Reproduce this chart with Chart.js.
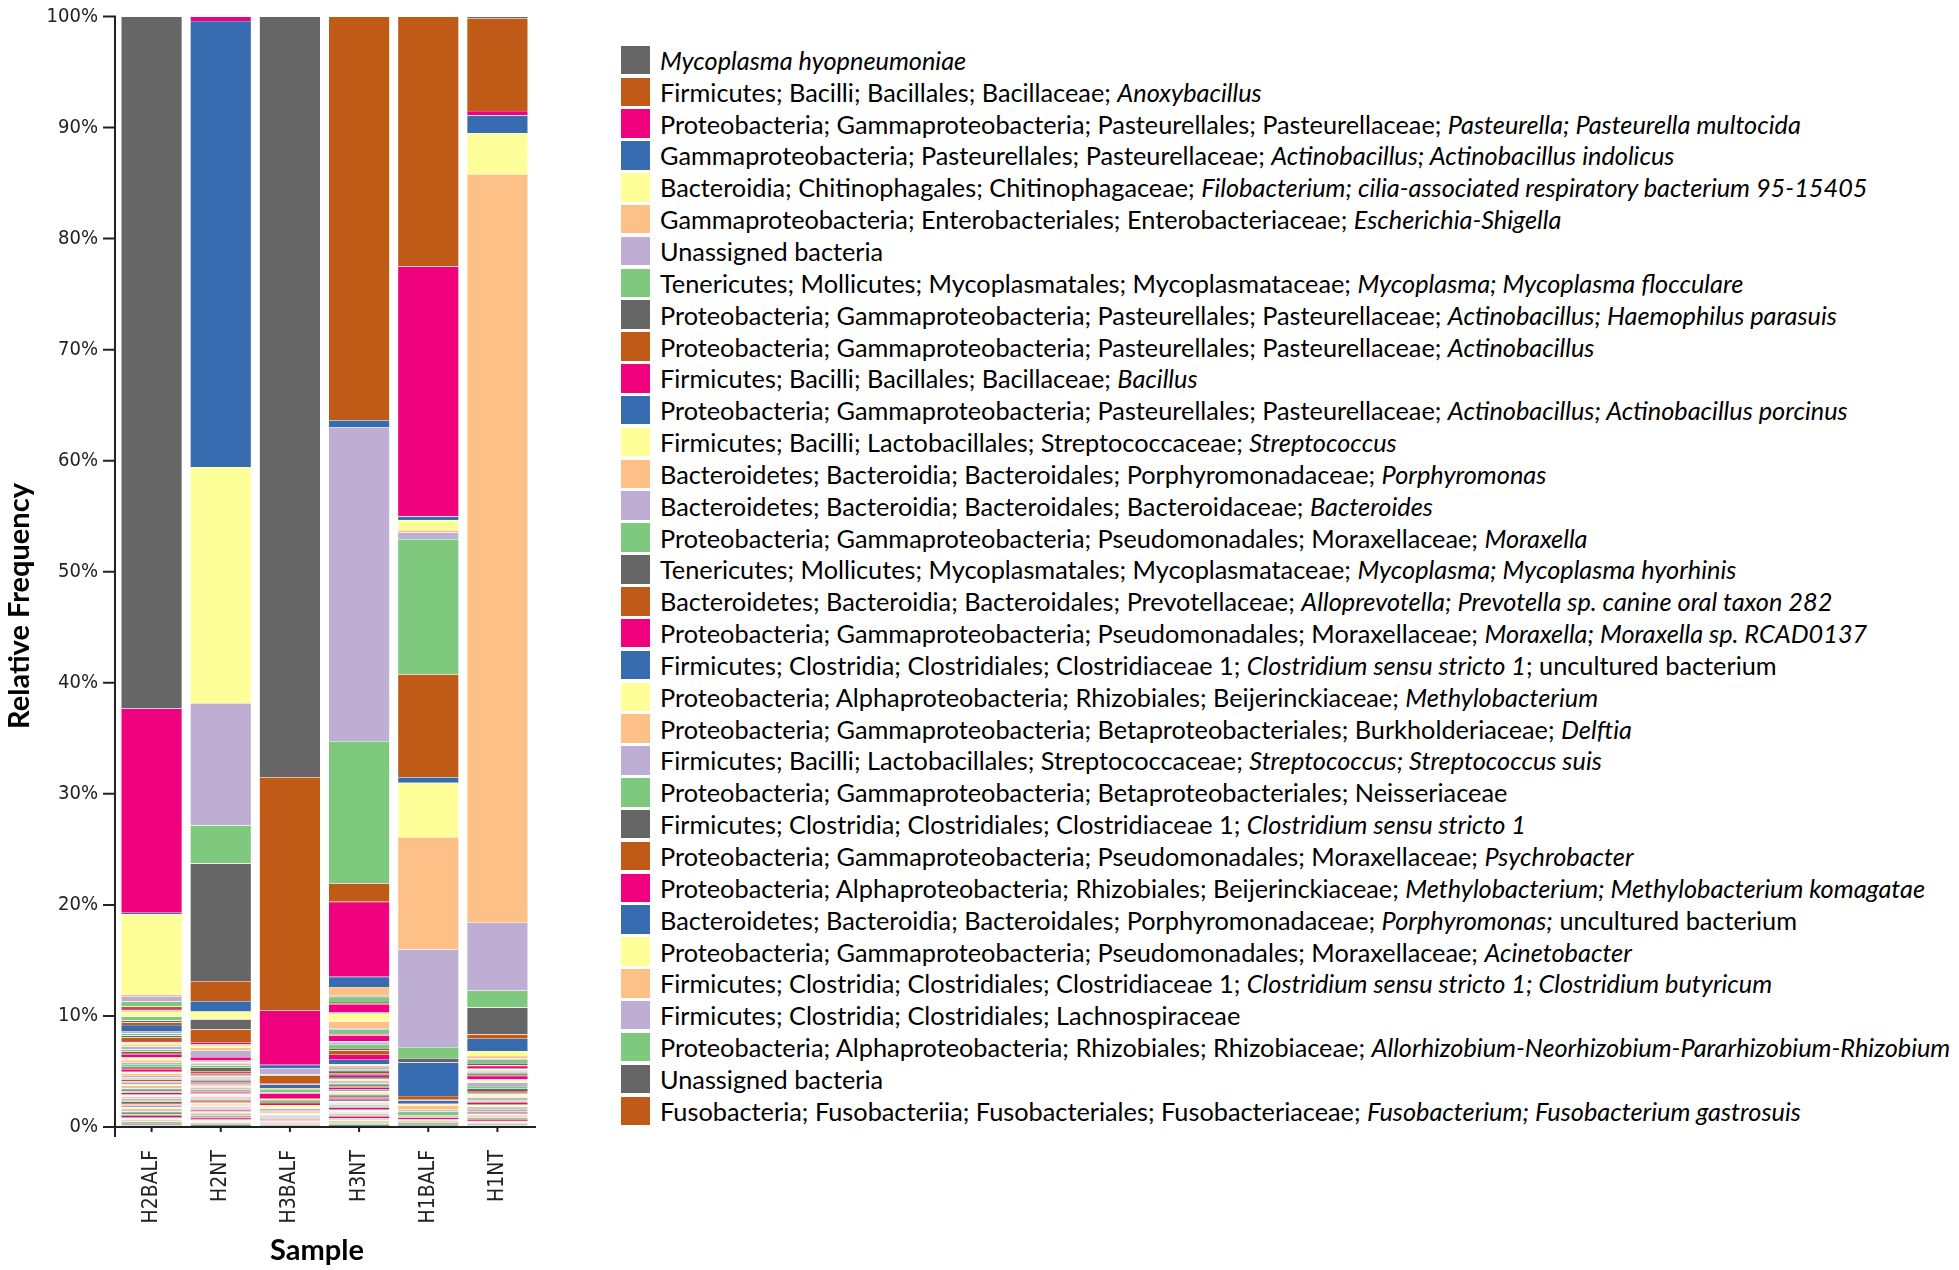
<!DOCTYPE html>
<html>
<head>
<meta charset="utf-8">
<script src="https://cdn.jsdelivr.net/npm/chart.js@4.4.0/dist/chart.umd.min.js"></script>
<style>
html, body { margin: 0; background: #fff; }
#wrap { position: absolute; left: 0; top: 0; width: 600px; height: 1270px; }
#legend { position: absolute; left: 621px; top: 44px; font-family: Lato, 'Open Sans', sans-serif; font-size: 25.3px; color: #000; }
.row { height: 31.85px; display: flex; align-items: center; white-space: nowrap; }
.sw { width: 28.5px; height: 28.5px; margin-right: 10.5px; flex: none; }
</style>
</head>
<body>
<div id="wrap"><canvas id="chart"></canvas></div>
<div id="legend"></div>
<script>
const samples = ['H2BALF', 'H2NT', 'H3BALF', 'H3NT', 'H1BALF', 'H1NT'];
const palette = ['#666666', '#bf5b17', '#f0027f', '#386cb0', '#ffff99', '#fdc086', '#beaed4', '#7fc97f'];

// _..._ marks the italic part
const taxa = [
    '_Mycoplasma hyopneumoniae_',
    'Firmicutes; Bacilli; Bacillales; Bacillaceae; _Anoxybacillus_',
    'Proteobacteria; Gammaproteobacteria; Pasteurellales; Pasteurellaceae; _Pasteurella; Pasteurella multocida_',
    'Gammaproteobacteria; Pasteurellales; Pasteurellaceae; _Actinobacillus; Actinobacillus indolicus_',
    'Bacteroidia; Chitinophagales; Chitinophagaceae; _Filobacterium; cilia-associated respiratory bacterium 95-15405_',
    'Gammaproteobacteria; Enterobacteriales; Enterobacteriaceae; _Escherichia-Shigella_',
    'Unassigned bacteria',
    'Tenericutes; Mollicutes; Mycoplasmatales; Mycoplasmataceae; _Mycoplasma; Mycoplasma flocculare_',
    'Proteobacteria; Gammaproteobacteria; Pasteurellales; Pasteurellaceae; _Actinobacillus; Haemophilus parasuis_',
    'Proteobacteria; Gammaproteobacteria; Pasteurellales; Pasteurellaceae; _Actinobacillus_',
    'Firmicutes; Bacilli; Bacillales; Bacillaceae; _Bacillus_',
    'Proteobacteria; Gammaproteobacteria; Pasteurellales; Pasteurellaceae; _Actinobacillus; Actinobacillus porcinus_',
    'Firmicutes; Bacilli; Lactobacillales; Streptococcaceae; _Streptococcus_',
    'Bacteroidetes; Bacteroidia; Bacteroidales; Porphyromonadaceae; _Porphyromonas_',
    'Bacteroidetes; Bacteroidia; Bacteroidales; Bacteroidaceae; _Bacteroides_',
    'Proteobacteria; Gammaproteobacteria; Pseudomonadales; Moraxellaceae; _Moraxella_',
    'Tenericutes; Mollicutes; Mycoplasmatales; Mycoplasmataceae; _Mycoplasma; Mycoplasma hyorhinis_',
    'Bacteroidetes; Bacteroidia; Bacteroidales; Prevotellaceae; _Alloprevotella; Prevotella sp. canine oral taxon 282_',
    'Proteobacteria; Gammaproteobacteria; Pseudomonadales; Moraxellaceae; _Moraxella; Moraxella sp. RCAD0137_',
    'Firmicutes; Clostridia; Clostridiales; Clostridiaceae 1; _Clostridium sensu stricto 1_; uncultured bacterium',
    'Proteobacteria; Alphaproteobacteria; Rhizobiales; Beijerinckiaceae; _Methylobacterium_',
    'Proteobacteria; Gammaproteobacteria; Betaproteobacteriales; Burkholderiaceae; _Delftia_',
    'Firmicutes; Bacilli; Lactobacillales; Streptococcaceae; _Streptococcus; Streptococcus suis_',
    'Proteobacteria; Gammaproteobacteria; Betaproteobacteriales; Neisseriaceae',
    'Firmicutes; Clostridia; Clostridiales; Clostridiaceae 1; _Clostridium sensu stricto 1_',
    'Proteobacteria; Gammaproteobacteria; Pseudomonadales; Moraxellaceae; _Psychrobacter_',
    'Proteobacteria; Alphaproteobacteria; Rhizobiales; Beijerinckiaceae; _Methylobacterium; Methylobacterium komagatae_',
    'Bacteroidetes; Bacteroidia; Bacteroidales; Porphyromonadaceae; _Porphyromonas;_ uncultured bacterium',
    'Proteobacteria; Gammaproteobacteria; Pseudomonadales; Moraxellaceae; _Acinetobacter_',
    'Firmicutes; Clostridia; Clostridiales; Clostridiaceae 1; _Clostridium sensu stricto 1; Clostridium butyricum_',
    'Firmicutes; Clostridia; Clostridiales; Lachnospiraceae',
    'Proteobacteria; Alphaproteobacteria; Rhizobiales; Rhizobiaceae; _Allorhizobium-Neorhizobium-Pararhizobium-Rhizobium_',
    'Unassigned bacteria',
    'Fusobacteria; Fusobacteriia; Fusobacteriales; Fusobacteriaceae; _Fusobacterium; Fusobacterium gastrosuis_'
];

// relative frequency (%) of each legend taxon, legend order
const H2BALF = [62.3, 0, 18.4, 0.15, 7.2, 0.21, 0.45, 0.45, 0, 0.21, 0.12, 0.12, 0.45, 0, 0, 0.36, 0.15, 0.24, 0, 0.54, 0, 0, 0.21, 0.21, 0.18, 0.3, 0.12, 0, 0.24, 0.12, 0.3, 0.15, 0.15, 0.1];
const H2NT   = [0, 0, 0.4, 40.2, 21.3, 0, 11.0, 3.45, 10.6, 1.8, 0, 0.95, 0.6, 0.1, 0, 0, 0.9, 1.2, 0.15, 0.1, 0.2, 0.25, 0.6, 0, 0, 0, 0.3, 0.1, 0.1, 0.1, 0.15, 0.2, 0.3, 0.2];
const H3BALF = [68.5, 21.0, 4.9, 0.3, 0, 0, 0.55, 0.1, 0, 0.75, 0.08, 0.3, 0, 0.1, 0, 0.3, 0.1, 0, 0.48, 0, 0.1, 0, 0, 0.27, 0, 0, 0.2, 0, 0.3, 0, 0.15, 0.1, 0, 0];
const H3NT   = [0, 36.3, 0, 0.66, 0, 0, 28.2, 12.8, 0, 1.65, 6.75, 0.9, 0, 0.8, 0.1, 0.45, 0.1, 0.1, 0.75, 0.1, 0.7, 0.6, 0.15, 0.3, 0.1, 0.1, 0.55, 0.1, 0, 0, 0.2, 0.3, 0.2, 0.4];
const H1BALF = [0, 22.5, 0, 0, 0, 0, 0, 0, 0, 0, 22.5, 0.35, 0.9, 0.2, 0.6, 12.2, 0, 9.25, 0, 0.5, 4.9, 10.1, 8.8, 1.0, 0.4, 0, 0, 3.0, 0, 0, 0, 0, 0, 0.35];
const H1NT   = [0.15, 8.35, 0.4, 1.6, 3.7, 67.4, 6.1, 1.55, 2.4, 0.4, 0, 1.1, 0.45, 0.24, 0.1, 0.3, 0.2, 0.05, 0.2, 0.08, 0.1, 0.1, 0.15, 0.1, 0.1, 0.08, 0.3, 0.05, 0.15, 0.1, 0.3, 0.25, 0.2, 0.1];

// minor taxa not in the legend (thin stripes at the bottom of each bar)
const tailH2BALF = [0.3, 0.05, 0.2, 0.2, 0.15, 0.25, 0.1, 0.1, 0.25, 0.05, 0.1, 0.2, 0.15, 0.1, 0.1, 0.15, 0.12, 0.1, 0.14, 0.15, 0.15, 0.12, 0.12, 0.12, 0.14, 0.1, 0.12, 0.15, 0.16, 0.12, 0.14, 0.12, 0.12, 0.1, 0.15, 0.14, 0.15, 0.12, 0.13, 0.12, 0.13, 0.1, 0.14, 0.13, 0.15, 0.11, 0.13, 0.13];
const tailH2NT   = [0.15, 0.08, 0.1, 0.12, 0.15, 0.1, 0.1, 0.1, 0.12, 0.1, 0.1, 0.1, 0.12, 0.08, 0.1, 0.08, 0.12, 0.08, 0.1, 0.1, 0.12, 0.08, 0.08, 0.1, 0.1, 0.08, 0.12, 0.12, 0.1, 0.08, 0.08, 0.1, 0.12, 0.08, 0.1, 0.1, 0.12, 0.08, 0.08, 0.08, 0.15, 0.06, 0.1, 0.12, 0.1, 0.1, 0.1, 0.1];
const tailH3BALF = [0.12, 0.06, 0.1, 0.1, 0.12, 0.08, 0.08, 0.08, 0.1, 0.06, 0.08, 0.1, 0.1, 0.08, 0.08, 0.08, 0, 0, 0, 0, 0, 0, 0, 0, 0, 0, 0, 0, 0, 0, 0, 0, 0, 0, 0, 0, 0, 0, 0, 0, 0, 0, 0, 0, 0, 0, 0, 0];
const tailH3NT   = [0.45, 0.4, 0.1, 0.15, 0.2, 0.15, 0.2, 0.15, 0.2, 0.15, 0.15, 0.15, 0.12, 0.15, 0.1, 0.1, 0.18, 0.15, 0.12, 0.12, 0.1, 0.12, 0.1, 0.1, 0.15, 0.12, 0.1, 0.1, 0.1, 0.1, 0.08, 0.08, 0.15, 0.1, 0.1, 0.1, 0.1, 0.1, 0.08, 0.1, 0.15, 0.1, 0.12, 0.12, 0.12, 0.12, 0.1, 0.1];
const tailH1BALF = [0.05, 0.3, 0.15, 0.4, 0.15, 0.35, 0.1, 0.1, 0.15, 0.05, 0.1, 0.12, 0.15, 0.1, 0.1, 0.08, 0, 0, 0, 0, 0, 0, 0, 0, 0, 0, 0, 0, 0, 0, 0, 0, 0, 0, 0, 0, 0, 0, 0, 0, 0, 0, 0, 0, 0, 0, 0, 0];
const tailH1NT   = [0.1, 0.08, 0.2, 0.12, 0.12, 0.12, 0.12, 0.1, 0.12, 0.08, 0.15, 0.12, 0.1, 0.1, 0.1, 0.08, 0.1, 0.06, 0.1, 0.1, 0.1, 0.08, 0.08, 0.08, 0.1, 0.05, 0.1, 0.1, 0.1, 0.08, 0.06, 0.05, 0, 0, 0, 0, 0, 0, 0, 0, 0, 0, 0, 0, 0, 0, 0, 0];

const rows = [H2BALF, H2NT, H3BALF, H3NT, H1BALF, H1NT];
const tails = [tailH2BALF, tailH2NT, tailH3BALF, tailH3NT, tailH1BALF, tailH1NT];
const totals = rows.map((r, k) => r.concat(tails[k]).reduce((a, b) => a + b, 0));

const tickFont = "'Liberation Sans Narrow', 'Arial Narrow', 'DejaVu Sans Condensed', sans-serif";

// top of the stack first, then flipped so Chart.js stacks it from the bottom
const layers = [];
for (let i = 0; i < taxa.length + tailH2BALF.length; i++) {
    const legendTaxon = i < taxa.length;
    layers.push({
        label: legendTaxon ? taxa[i].replace(/_/g, '') : 'other',
        data: rows.map((r, k) => (legendTaxon ? r[i] : tails[k][i - taxa.length]) * 100 / totals[k]),
        backgroundColor: palette[i % palette.length],
        borderColor: 'rgba(255,255,255,0.3)',
        borderWidth: { top: 0.4, left: 0.8, right: 0.8, bottom: 0 },
        borderSkipped: false
    });
}
layers.reverse();

const frame = {
    id: 'frame',
    afterDraw(chart) {
        const { ctx, chartArea: a, scales: { x, y } } = chart;
        const ax = a.left - 2;
        ctx.save();
        ctx.strokeStyle = '#222';
        ctx.lineWidth = 2;
        ctx.beginPath();
        ctx.moveTo(ax, y.getPixelForValue(100) - 1);
        ctx.lineTo(ax, a.bottom + 10);
        ctx.moveTo(ax, a.bottom);
        ctx.lineTo(a.right + 4, a.bottom);
        y.ticks.forEach(t => {
            const py = y.getPixelForValue(t.value);
            ctx.moveTo(ax - 12, py);
            ctx.lineTo(ax, py);
        });
        samples.forEach((s, i) => {
            const px = x.getPixelForValue(i);
            ctx.moveTo(px, a.bottom);
            ctx.lineTo(px, a.bottom + 5);
        });
        ctx.stroke();
        ctx.fillStyle = '#000';
        ctx.font = 'bold 29px Lato';
        ctx.textAlign = 'center';
        ctx.textBaseline = 'middle';
        ctx.fillText('Sample', 317, 1251);
        ctx.translate(20, 606);
        ctx.rotate(-Math.PI / 2);
        ctx.fillText('Relative Frequency', 0, 0);
        ctx.restore();
    }
};

new Chart(document.getElementById('chart'), {
    type: 'bar',
    data: { labels: samples, datasets: layers },
    plugins: [frame],
    options: {
        responsive: true,
        maintainAspectRatio: false,
        animation: false,
        layout: { padding: { top: 16.5, right: 68, left: 0, bottom: 0 } },
        plugins: { legend: { display: false }, tooltip: { enabled: false } },
        datasets: { bar: { barPercentage: 0.893, categoryPercentage: 1 } },
        scales: {
            x: {
                stacked: true,
                grid: { display: false, drawTicks: false },
                border: { display: false },
                ticks: { color: '#222', font: { family: tickFont, size: 21 }, minRotation: 90, maxRotation: 90, padding: 23, autoSkip: false },
                afterFit: s => { s.height = 143; s.paddingLeft = 0; s.paddingRight = 0; s.paddingTop = 0; s.paddingBottom = 0; }
            },
            y: {
                stacked: true,
                min: 0,
                max: 100,
                grid: { display: false, drawTicks: false },
                border: { display: false },
                ticks: { stepSize: 10, color: '#222', font: { family: tickFont, size: 20 }, padding: 19, callback: v => v + '%' },
                afterFit: s => { s.width = 117; s.paddingTop = 0; s.paddingBottom = 0; }
            }
        }
    }
});

const legend = document.getElementById('legend');
taxa.forEach((t, i) => {
    const row = document.createElement('div');
    row.className = 'row';
    const sw = document.createElement('span');
    sw.className = 'sw';
    sw.style.background = palette[i % palette.length];
    const txt = document.createElement('span');
    txt.innerHTML = t.replace(/_(.*?)_/g, '<i>$1</i>');
    row.appendChild(sw);
    row.appendChild(txt);
    legend.appendChild(row);
});
</script>
</body>
</html>
